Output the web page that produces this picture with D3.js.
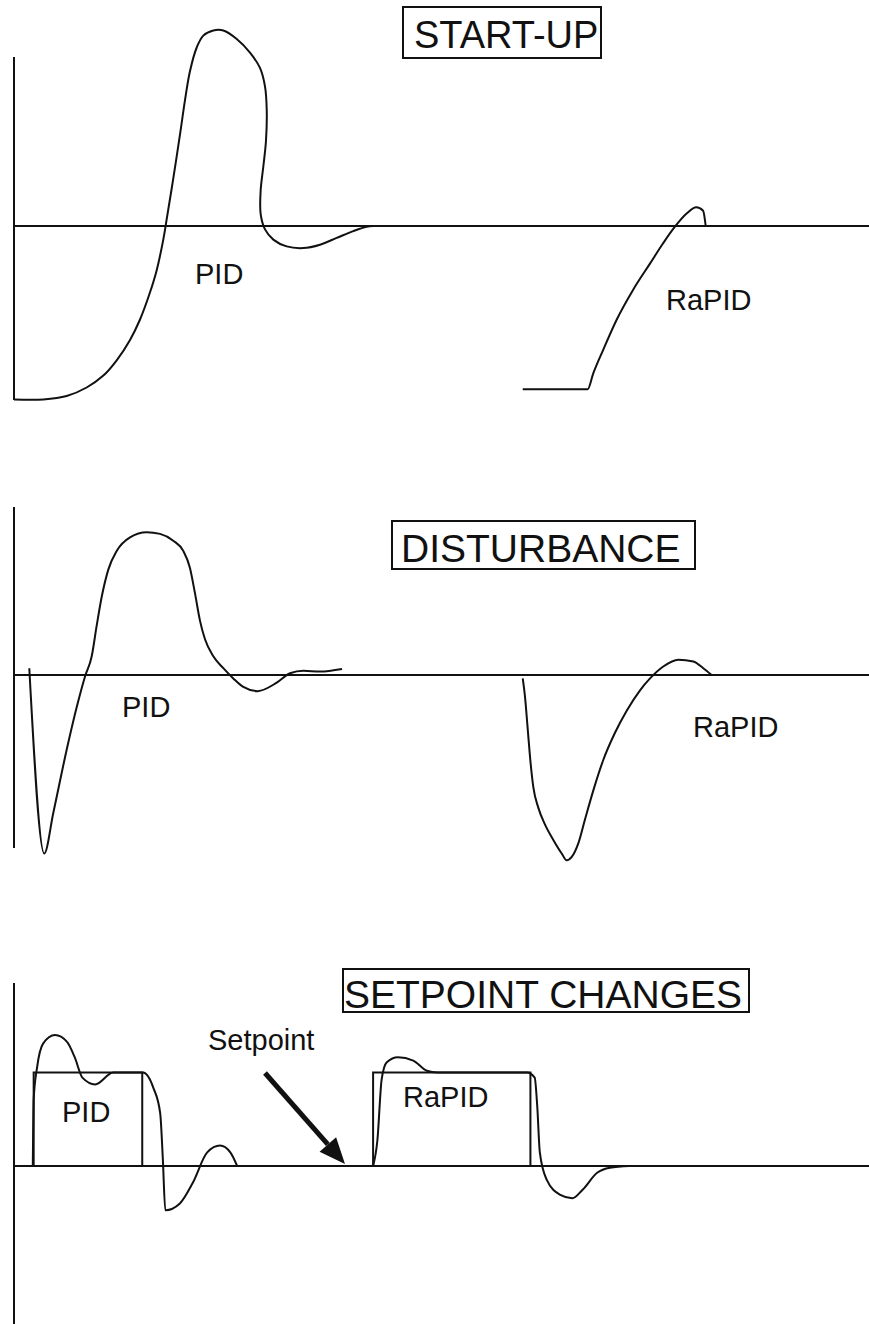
<!DOCTYPE html>
<html>
<head>
<meta charset="utf-8">
<script src="https://cdn.jsdelivr.net/npm/d3@7"></script>
<style>
  body { margin: 0; background: #fff; }
  svg { display: block; }
  text { font-family: "Liberation Sans", Arial, Helvetica, sans-serif; fill: #111; }
</style>
</head>
<body>
<div id="viz"></div>
<script>
// time runs 0..100, response is normalised so the setpoint baseline is 0

// START-UP
var startupPid = [[0,-1.02],[3.43,-1.02],[6.16,-1.0],[8.5,-0.95],[10.45,-0.88],[12.01,-0.79],
  [13.57,-0.67],[14.74,-0.55],[15.91,-0.39],[16.69,-0.26],[17.46,-0.08],[17.86,0.04],
  [18.63,0.28],[19.42,0.54],[20.0,0.74],[20.58,0.91],[21.37,1.05],[22.14,1.12],[23.31,1.15],
  [24.48,1.15],[26.05,1.10],[27.6,1.02],[28.77,0.93],[29.36,0.82],[29.56,0.68],[29.47,0.50],
  [29.16,0.35],[28.85,0.21],[28.85,0.07],[29.36,-0.02],[30.33,-0.08],[31.89,-0.12],
  [33.84,-0.13],[35.79,-0.11],[37.74,-0.07],[39.68,-0.03],[41.25,-0.004],[42.02,0]];
var startupRapid = [[59.5,-0.96],[67.1,-0.96],[67.75,-0.867],[68.9,-0.73],[70.5,-0.55],
  [72.4,-0.376],[74.4,-0.22],[75.9,-0.103],[77.3,-0.004],[78.7,0.075],[79.8,0.11],
  [80.6,0.09],[80.9,0]];

// DISTURBANCE
var disturbPid = [[1.79,0.04],[3.54,-1.05],[4.6,-0.81],[6.16,-0.44],[7.33,-0.19],[8.3,-0.01],
  [9.09,0.11],[9.67,0.29],[10.26,0.46],[11.03,0.62],[12.01,0.73],[13.57,0.81],[15.52,0.84],
  [17.08,0.83],[18.63,0.79],[19.8,0.73],[20.58,0.63],[21.17,0.48],[21.75,0.32],[22.34,0.21],
  [23.31,0.11],[24.48,0.04],[25.65,-0.02],[26.82,-0.07],[28.5,-0.095],
  [30.73,-0.045],[32.28,0.01],[33.84,0.025],[35.79,0.02],[38.37,0.035]];
var disturbRapid = [[59.5,-0.02],[59.77,-0.13],[60.04,-0.29],[60.35,-0.48],[60.74,-0.66],
  [61.32,-0.78],[62.11,-0.88],[63.08,-0.97],[64.06,-1.05],[64.64,-1.09],[65.23,-1.07],
  [66.0,-0.99],[66.78,-0.85],[67.75,-0.68],[68.92,-0.50],[70.29,-0.34],[71.66,-0.21],
  [73.22,-0.09],[74.39,-0.02],[75.94,0.05],[77.7,0.09],[79.45,0.08],[80.62,0.04],[81.6,0]];

// SETPOINT CHANGES
var setpointPid = [[2.3,0],[2.3,0.55],[15.0,0.55],[15.0,0]];
var setpointRapid = [[42.0,0],[42.0,0.55],[60.4,0.55],[60.4,0]];
var changesPid = [[2.2,0],[2.3,0.39],[2.7,0.58],[3.4,0.72],[4.8,0.77],[6.2,0.73],[7.1,0.64],
  [8.0,0.52],[9.5,0.48],[11.6,0.55],[13.9,0.55],[15.1,0.55],[16.3,0.46],
  [17.1,0.31],[17.4,0.05],[17.7,-0.26],[19.4,-0.22],[20.9,-0.10],[22.6,0.08],[24.1,0.12],
  [25.3,0.08],[26.1,0]];
var changesRapid = [[42.0,0],[42.5,0.15],[43.0,0.51],[43.6,0.61],[44.9,0.64],[46.7,0.62],
  [48.3,0.56],[49.5,0.55],[52.5,0.55],[56.5,0.55],[60.0,0.55],[60.9,0.52],[61.2,0.35],
  [61.5,0.08],[62.3,-0.08],[63.9,-0.17],[65.3,-0.19],[66.5,-0.14],[68.2,-0.04],
  [69.7,-0.01],[72.0,0]];

var width = 869, height = 1324;

var svg = d3.select("#viz").append("svg")
  .attr("width", width)
  .attr("height", height);

var x = d3.scaleLinear().domain([0, 100]).range([14, 869]);

// the start-up PID curve doubles back on itself, so it can't use a monotone curve
var loopCurve = d3.curveCatmullRom.alpha(0.5);
var smoothCurve = d3.curveMonotoneX;

var panels = [
  { title: "START-UP", base: 226, axis: [57, 400],
    box: [403, 7, 198, 51], titleX: 414, titleY: 48, titleSize: 38,
    responses: [[startupPid, loopCurve], [startupRapid, smoothCurve]], steps: [],
    labels: [["PID", 195, 284], ["RaPID", 666, 310]] },
  { title: "DISTURBANCE", base: 675, axis: [507, 848],
    box: [392, 521, 303, 48], titleX: 401, titleY: 562, titleSize: 39,
    responses: [[disturbPid, smoothCurve], [disturbRapid, smoothCurve]], steps: [],
    labels: [["PID", 122, 717], ["RaPID", 693, 737]] },
  { title: "SETPOINT CHANGES", base: 1166, axis: [983, 1324],
    box: [343, 969, 406, 43], titleX: 344, titleY: 1008, titleSize: 39,
    responses: [[changesPid, smoothCurve], [changesRapid, smoothCurve]],
    steps: [setpointPid, setpointRapid],
    labels: [["PID", 62, 1122], ["RaPID", 403, 1107], ["Setpoint", 208, 1050]] }
];

panels.forEach(function (p) {
  var y = d3.scaleLinear().domain([-1, 1]).range([p.base + 170, p.base - 170]);
  var g = svg.append("g");

  // vertical axis and baseline
  g.append("line")
    .attr("x1", x(0)).attr("x2", x(0))
    .attr("y1", p.axis[0]).attr("y2", p.axis[1])
    .attr("stroke", "#111").attr("stroke-width", 2);
  g.append("line")
    .attr("x1", x(0)).attr("x2", x(100))
    .attr("y1", y(0)).attr("y2", y(0))
    .attr("stroke", "#111").attr("stroke-width", 2);

  var stepLine = d3.line()
    .x(function (d) { return x(d[0]); })
    .y(function (d) { return y(d[1]); });

  p.steps.forEach(function (s) {
    g.append("path").attr("d", stepLine(s))
      .attr("fill", "none").attr("stroke", "#111").attr("stroke-width", 2);
  });

  p.responses.forEach(function (r) {
    var line = d3.line()
      .x(function (d) { return x(d[0]); })
      .y(function (d) { return y(d[1]); })
      .curve(r[1]);
    g.append("path").attr("d", line(r[0]))
      .attr("fill", "none").attr("stroke", "#111").attr("stroke-width", 2)
      .attr("stroke-linejoin", "round");
  });

  // boxed title
  g.append("rect")
    .attr("x", p.box[0]).attr("y", p.box[1])
    .attr("width", p.box[2]).attr("height", p.box[3])
    .attr("fill", "none").attr("stroke", "#111").attr("stroke-width", 2);
  g.append("text")
    .attr("x", p.titleX).attr("y", p.titleY)
    .style("font-size", p.titleSize + "px")
    .text(p.title);

  p.labels.forEach(function (l) {
    g.append("text")
      .attr("x", l[1]).attr("y", l[2])
      .style("font-size", "29px")
      .text(l[0]);
  });
});

// arrow pointing at the setpoint step
var ax1 = 265, ay1 = 1073, ax2 = 345, ay2 = 1164;
var ang = Math.atan2(ay2 - ay1, ax2 - ax1);
var headLen = 26, headW = 11;
var bx = ax2 - headLen * Math.cos(ang), by = ay2 - headLen * Math.sin(ang);
svg.append("line")
  .attr("x1", ax1).attr("y1", ay1).attr("x2", bx).attr("y2", by)
  .attr("stroke", "#111").attr("stroke-width", 5);
svg.append("path")
  .attr("d", "M" + ax2 + "," + ay2 +
    "L" + (bx + headW * Math.sin(ang)) + "," + (by - headW * Math.cos(ang)) +
    "L" + (bx - headW * Math.sin(ang)) + "," + (by + headW * Math.cos(ang)) + "Z")
  .attr("fill", "#111");
</script>
</body>
</html>
